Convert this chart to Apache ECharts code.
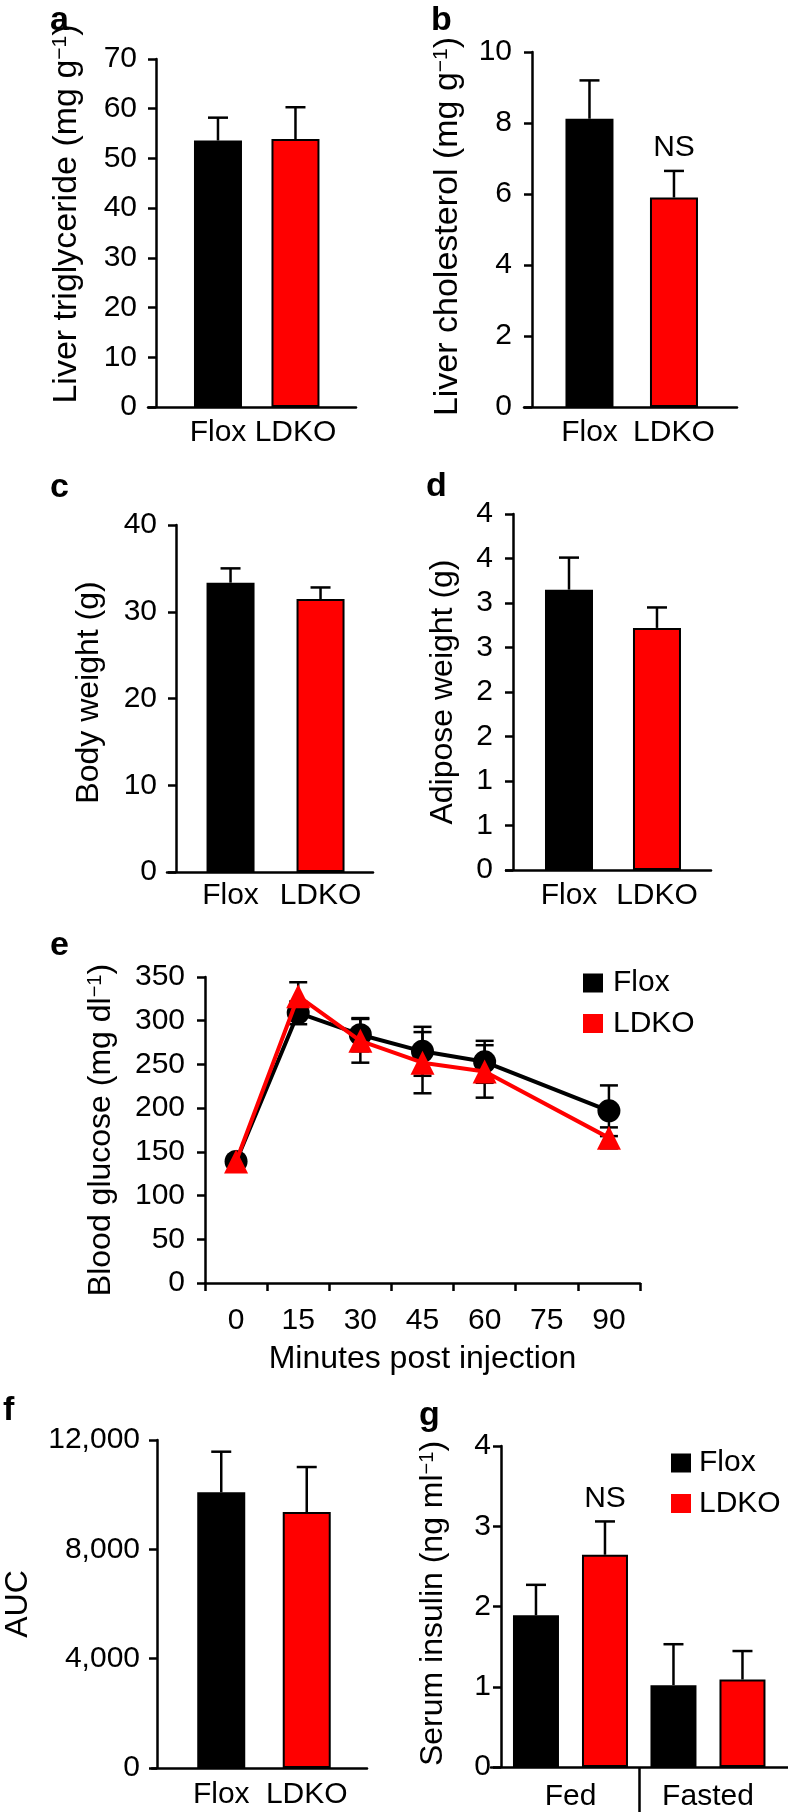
<!DOCTYPE html>
<html><head><meta charset="utf-8">
<script src="https://cdn.jsdelivr.net/npm/echarts@6/dist/echarts.min.js"></script>
<style>html,body{margin:0;padding:0;background:#fff}#c{width:788px;height:1812px}</style>
</head><body><div id="c"></div>
<script>
// ---------- data ----------
const barCats = ['Flox', 'LDKO'];
const trigMean = [53.6, 53.9];
const trigErr = [4.6, 6.4];
const cholMean = [8.12, 5.9];
const cholErr = [1.08, 0.75];
const cholNotes = ['', 'NS'];
const bodyMean = [33.35, 31.47];
const bodyErr = [1.65, 1.33];
const adiposeMean = [3.15, 2.72];
const adiposeErr = [0.36, 0.23];
const adiposeTicks = ['0', '1', '1', '2', '2', '3', '3', '4', '4'];
const minutes = ['0', '15', '30', '45', '60', '75', '90'];
const gluFlox = [139, 309, 284, 265, 253, null, 197];
const gluFloxErr = [5, 13, 19, 28, 24, null, 29];
const gluLdko = [139, 328, 277, 252, 242, null, 166];
const gluLdkoErr = [5, 16, 25, 35, 30, null, 12];
const aucMean = [10085, 9363];
const aucErr = [1487, 1648];
const aucTicks = ['0', '4,000', '8,000', '12,000'];
const insulinGroups = ['Fed', 'Fasted'];
const insulinFlox = [1.89, 1.02];
const insulinFloxErr = [0.38, 0.51];
const insulinLdko = [2.645, 1.09];
const insulinLdkoErr = [0.415, 0.355];
const insulinLdkoNotes = ['NS', ''];

// ---------- style ----------
const FONT = 'Liberation Sans';
const BLACK = '#000000';
const RED = '#ff0000';
const groupColors = [BLACK, RED];
const AX_W = 2.5;

function yAxisDef(gridIndex, max, interval, name, nameGap, labelMargin, offset, extra) {
  extra = extra || {};
  const fs = extra.nameSize || 32;
  return {
    type: 'value', gridIndex: gridIndex, min: 0, max: max, interval: interval,
    offset: offset,
    name: name, nameLocation: 'middle', nameRotate: 90, nameGap: nameGap,
    nameMoveOverlap: false,
    nameTextStyle: {
      color: BLACK, fontSize: fs, fontFamily: FONT,
      padding: extra.namePadding || 0,
      rich: { s: { fontSize: Math.round(fs * 0.62), fontFamily: FONT, color: BLACK, verticalAlign: 'top' } }
    },
    axisLine: { show: true, onZero: false, lineStyle: { color: BLACK, width: AX_W } },
    axisTick: { show: true, inside: false, length: 8, lineStyle: { color: BLACK, width: AX_W } },
    axisLabel: { color: BLACK, fontSize: 30, fontFamily: FONT, margin: labelMargin, formatter: extra.formatter },
    splitLine: { show: false }
  };
}

function xValueAxisDef(gridIndex, min, max, labels, labelMargin, firstValue) {
  const vals = labels.map((l, i) => i + firstValue);
  return {
    type: 'value', gridIndex: gridIndex, min: min, max: max,
    axisLine: { show: true, onZero: false, lineStyle: { color: BLACK, width: AX_W } },
    axisTick: { show: false },
    axisLabel: {
      color: BLACK, fontSize: 30, fontFamily: FONT, margin: labelMargin,
      customValues: vals,
      formatter: function (v) { return labels[Math.round(v) - firstValue] || ''; }
    },
    splitLine: { show: false }
  };
}

function errRender(offsetPx, twoSided, notes) {
  return function (params, api) {
    const x = api.value(0), y = api.value(1), e = api.value(2);
    if (y == null || isNaN(y)) return null;
    const p0 = api.coord([x, y]);
    const pTop = api.coord([x, y + e]);
    const pBot = twoSided ? api.coord([x, y - e]) : p0;
    const cx = p0[0] + offsetPx;
    const half = twoSided ? 9 : 10;
    const ls = { stroke: BLACK, lineWidth: 2.5 };
    const children = [
      { type: 'line', shape: { x1: cx, y1: pBot[1], x2: cx, y2: pTop[1] }, style: ls },
      { type: 'line', shape: { x1: cx - half, y1: pTop[1], x2: cx + half, y2: pTop[1] }, style: ls }
    ];
    if (twoSided) {
      children.push({ type: 'line', shape: { x1: cx - half, y1: pBot[1], x2: cx + half, y2: pBot[1] }, style: ls });
    }
    const note = notes ? notes[params.dataIndex] : '';
    if (note) {
      children.push({ type: 'text', style: { text: note, x: cx, y: pTop[1] - 8, align: 'center', verticalAlign: 'bottom', fontSize: 30, fontFamily: FONT, fill: BLACK } });
    }
    return { type: 'group', children: children };
  };
}

function barSeries(axisIndex, name, means, firstValue) {
  return {
    type: 'bar', name: name, xAxisIndex: axisIndex, yAxisIndex: axisIndex,
    barWidth: 48,
    data: means.map((v, i) => ({ value: [i + firstValue, v], itemStyle: { color: groupColors[i] } })),
    itemStyle: { borderColor: BLACK, borderWidth: 2 },
    silent: true, z: 2
  };
}

function errSeries(axisIndex, means, errs, firstValue, offsetPx, twoSided, notes) {
  const data = [];
  means.forEach((v, i) => { if (v != null) data.push([i + firstValue, v, errs[i]]); });
  return {
    type: 'custom', xAxisIndex: axisIndex, yAxisIndex: axisIndex,
    renderItem: errRender(offsetPx, twoSided, notes),
    encode: { x: 0, y: 1 },
    data: data, z: twoSided ? 1 : 3, silent: true
  };
}

const grids = [
  { left: 148, top: 59, width: 208, height: 348 },   // a
  { left: 524, top: 52, width: 213, height: 355 },   // b
  { left: 167, top: 525, width: 206, height: 347 },  // c
  { left: 506, top: 514, width: 205, height: 356 },  // d
  { left: 205, top: 977, width: 435, height: 306 },  // e
  { left: 152, top: 1440, width: 215, height: 328 }, // f
  { left: 491, top: 1446, width: 297, height: 322 }  // g
];

const xAxes = [
  xValueAxisDef(0, 0.097, 2.781, barCats, 11, 1),
  xValueAxisDef(1, 0.225, 2.746, barCats, 11, 1),
  xValueAxisDef(2, 0.294, 2.583, barCats, 9, 1),
  xValueAxisDef(3, 0.284, 2.614, barCats, 11, 1),
  {
    type: 'category', gridIndex: 4, data: minutes, boundaryGap: true,
    name: 'Minutes post injection', nameLocation: 'middle', nameGap: 60, nameMoveOverlap: false,
    nameTextStyle: { color: BLACK, fontSize: 32, fontFamily: FONT },
    axisLine: { show: true, onZero: false, lineStyle: { color: BLACK, width: AX_W } },
    axisTick: { show: true, inside: false, length: 8, interval: 0, lineStyle: { color: BLACK, width: AX_W } },
    axisLabel: { color: BLACK, fontSize: 30, fontFamily: FONT, margin: 23, interval: 0 },
    splitLine: { show: false }
  },
  xValueAxisDef(5, 0.19, 2.705, barCats, 12, 1),
  {
    type: 'value', gridIndex: 6, min: -0.578, max: 1.582,
    axisLine: { show: true, onZero: false, lineStyle: { color: BLACK, width: AX_W } },
    axisTick: { show: true, inside: false, length: 46, customValues: [0.5], lineStyle: { color: BLACK, width: AX_W } },
    axisLabel: {
      color: BLACK, fontSize: 30, fontFamily: FONT, margin: 15,
      customValues: insulinGroups.map((g, i) => i),
      formatter: function (v) { return insulinGroups[Math.round(v)] || ''; }
    },
    splitLine: { show: false }
  }
];

const yAxes = [
  yAxisDef(0, 70, 10, 'Liver triglyceride (mg g{s|−1})', 72, 19, -8, { nameSize: 34, namePadding: [0, 0, 0, 38] }),
  yAxisDef(1, 10, 2, 'Liver cholesterol (mg g{s|−1})', 67, 20, -8, { nameSize: 34, namePadding: [0, 0, 0, 6] }),
  yAxisDef(2, 40, 10, 'Body weight (g)', 71, 19, -9, { namePadding: [0, 0, 0, 12] }),
  yAxisDef(3, 4, 0.5, 'Adipose weight (g)', 54, 20, -7, { formatter: function (v) { return adiposeTicks[Math.round(v / 0.5)]; } }),
  yAxisDef(4, 350, 50, 'Blood glucose (mg dl{s|−1})', 88, 20, 0),
  yAxisDef(5, 12000, 4000, 'AUC', 123, 17, -5, { formatter: function (v) { return aucTicks[Math.round(v / 4000)]; } }),
  yAxisDef(6, 4, 1, 'Serum insulin (ng ml{s|−1})', 52, 10, -10, { namePadding: [0, 0, 0, 6] })
];

const series = [
  barSeries(0, 'Liver triglyceride', trigMean, 1),
  errSeries(0, trigMean, trigErr, 1, 0, false),
  barSeries(1, 'Liver cholesterol', cholMean, 1),
  errSeries(1, cholMean, cholErr, 1, 0, false, cholNotes),
  barSeries(2, 'Body weight', bodyMean, 1),
  errSeries(2, bodyMean, bodyErr, 1, 0, false),
  barSeries(3, 'Adipose weight', adiposeMean, 1),
  errSeries(3, adiposeMean, adiposeErr, 1, 0, false),
  errSeries(4, gluFlox, gluFloxErr, 0, 0, true),
  errSeries(4, gluLdko, gluLdkoErr, 0, 0, true),
  {
    type: 'line', name: 'Flox', xAxisIndex: 4, yAxisIndex: 4, data: gluFlox, connectNulls: true,
    symbol: 'circle', symbolSize: 23, showAllSymbol: true,
    lineStyle: { color: BLACK, width: 4 }, itemStyle: { color: BLACK }, z: 4, silent: true
  },
  {
    type: 'line', name: 'LDKO', xAxisIndex: 4, yAxisIndex: 4, data: gluLdko, connectNulls: true,
    symbol: 'triangle', symbolSize: 24, showAllSymbol: true,
    lineStyle: { color: RED, width: 4 }, itemStyle: { color: RED }, z: 5, silent: true
  },
  barSeries(5, 'AUC', aucMean, 1),
  errSeries(5, aucMean, aucErr, 1, 0, false),
  {
    type: 'bar', name: 'Flox', xAxisIndex: 6, yAxisIndex: 6, barWidth: 46, barGap: '50%',
    data: insulinFlox.map((v, i) => [i, v]),
    itemStyle: { color: BLACK, borderColor: BLACK, borderWidth: 2 }, silent: true, z: 2
  },
  {
    type: 'bar', name: 'LDKO', xAxisIndex: 6, yAxisIndex: 6, barWidth: 46, barGap: '50%',
    data: insulinLdko.map((v, i) => [i, v]),
    itemStyle: { color: RED, borderColor: BLACK, borderWidth: 2 }, silent: true, z: 2
  },
  errSeries(6, insulinFlox, insulinFloxErr, 0, -34.5, false),
  errSeries(6, insulinLdko, insulinLdkoErr, 0, 34.5, false, insulinLdkoNotes)
];

function legendDef(left, top, textPad) {
  return {
    orient: 'vertical', left: left, top: top, padding: 0,
    itemWidth: 20, itemHeight: 19, itemGap: 10.5, selectedMode: false,
    icon: 'rect',
    itemStyle: { borderWidth: 0 },
    data: [{ name: 'Flox', icon: 'rect', itemStyle: { color: BLACK } }, { name: 'LDKO', icon: 'rect', itemStyle: { color: RED } }],
    textStyle: { color: BLACK, fontSize: 30, fontFamily: FONT, lineHeight: 30, padding: [0, 0, 0, textPad] }
  };
}

const panelLetters = [
  { t: 'a', x: 50, y: 4 }, { t: 'b', x: 431, y: 4 },
  { t: 'c', x: 50, y: 471 }, { t: 'd', x: 426, y: 470 },
  { t: 'e', x: 50, y: 929 }, { t: 'f', x: 3, y: 1394 },
  { t: 'g', x: 419, y: 1399 }
];

const option = {
  backgroundColor: '#ffffff',
  animation: false,
  grid: grids,
  xAxis: xAxes,
  yAxis: yAxes,
  legend: [legendDef(583, 968, 5), legendDef(671, 1448, 3)],
  graphic: panelLetters.map(p => ({
    type: 'text', left: p.x, top: p.y, silent: true,
    style: { text: p.t, fontSize: 34, fontWeight: 'bold', fontFamily: FONT, fill: BLACK }
  })),
  series: series
};

const chart = echarts.init(document.getElementById('c'), null, { renderer: 'canvas' });
chart.setOption(option);
</script>
</body></html>
